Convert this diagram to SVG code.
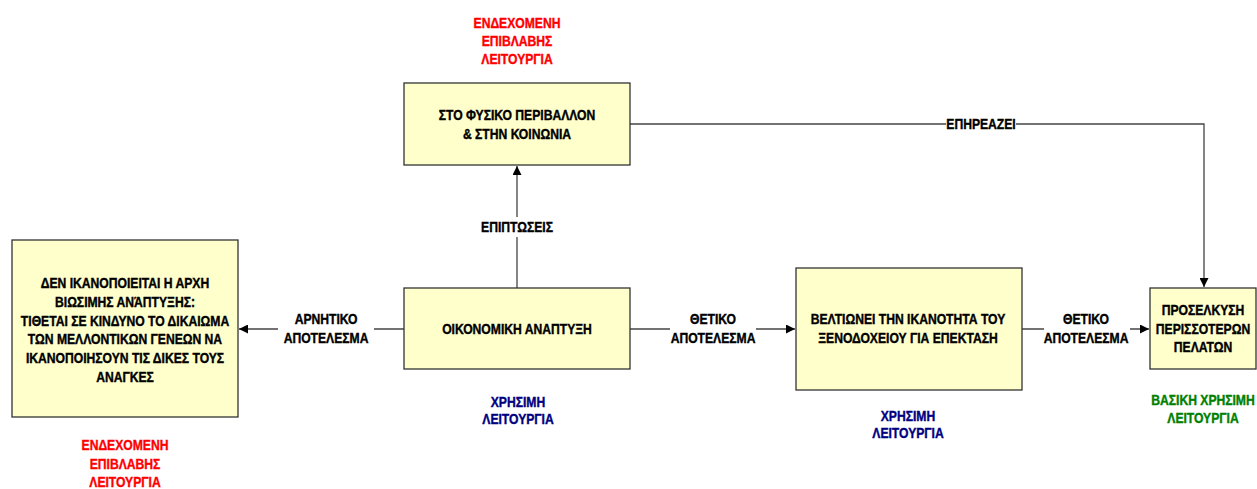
<svg xmlns="http://www.w3.org/2000/svg" width="1257" height="489" viewBox="0 0 1257 489">
<defs>
<marker id="arr" viewBox="0 0 10 10" refX="10" refY="5" markerWidth="9" markerHeight="9" markerUnits="userSpaceOnUse" orient="auto">
<path d="M0,0 L10,5 L0,10 z" fill="#000"/>
</marker>
</defs>
<style>
text{font-family:"Liberation Sans",Arial,sans-serif;font-weight:bold;font-size:15px;text-anchor:middle;fill:#000;stroke:#000;stroke-width:0.4;transform-box:fill-box;transform-origin:center;transform:scale(0.81,1)}
.box{fill:#FFFFCC;stroke:#333;stroke-width:1.3}
.ln{fill:none;stroke:#444;stroke-width:1.3}
text.red{fill:#FF0000;stroke:#FF0000}
text.blue{fill:#000080;stroke:#000080}
text.green{fill:#008000;stroke:#008000}
.lbg{fill:#fff}
</style>
<rect width="1257" height="489" fill="#fff"/>
<g id="connectors">
<line class="ln" x1="404" y1="329" x2="239" y2="329" marker-end="url(#arr)"/>
<line class="ln" x1="630" y1="329" x2="795" y2="329" marker-end="url(#arr)"/>
<line class="ln" x1="1022" y1="329" x2="1149" y2="329" marker-end="url(#arr)"/>
<line class="ln" x1="517" y1="288" x2="517" y2="166" marker-end="url(#arr)"/>
<polyline class="ln" points="630,124 1204,124 1204,287" marker-end="url(#arr)"/>
<rect class="lbg" x="278" y="308" width="96" height="40"/>
<text x="326" y="324">ΑΡΝΗΤΙΚΟ</text>
<text x="326" y="343">ΑΠΟΤΕΛΕΣΜΑ</text>
<rect class="lbg" x="670" y="308" width="86" height="40"/>
<text x="713" y="324">ΘΕΤΙΚΟ</text>
<text x="713" y="343">ΑΠΟΤΕΛΕΣΜΑ</text>
<rect class="lbg" x="1044" y="308" width="86" height="40"/>
<text x="1086" y="324">ΘΕΤΙΚΟ</text>
<text x="1086" y="343">ΑΠΟΤΕΛΕΣΜΑ</text>
<rect class="lbg" x="478" y="217" width="78" height="20"/>
<text x="517" y="232">ΕΠΙΠΤΩΣΕΙΣ</text>
<rect class="lbg" x="946" y="116" width="70" height="16"/>
<text x="981" y="129">ΕΠΗΡΕΑΖΕΙ</text>
</g>
<g id="node-environment">
<rect class="box" x="404" y="83" width="226" height="82"/>
<text x="517" y="120">ΣΤΟ ΦΥΣΙΚΟ ΠΕΡΙΒΑΛΛΟΝ</text>
<text x="517" y="139">&amp; ΣΤΗΝ ΚΟΙΝΩΝΙΑ</text>
<text class="red" x="517" y="28">ΕΝΔΕΧΟΜΕΝΗ</text>
<text class="red" x="517" y="46">ΕΠΙΒΛΑΒΗΣ</text>
<text class="red" x="517" y="64">ΛΕΙΤΟΥΡΓΙΑ</text>
</g>
<g id="node-sustainability">
<rect class="box" x="12" y="240" width="226" height="177"/>
<text x="125" y="288">ΔΕΝ ΙΚΑΝΟΠΟΙΕΙΤΑΙ Η ΑΡΧΗ</text>
<text x="125" y="307">ΒΙΩΣΙΜΗΣ ΑΝΆΠΤΥΞΗΣ:</text>
<text x="125" y="326">ΤΙΘΕΤΑΙ ΣΕ ΚΙΝΔΥΝΟ ΤΟ ΔΙΚΑΙΩΜΑ</text>
<text x="125" y="344">ΤΩΝ ΜΕΛΛΟΝΤΙΚΩΝ ΓΕΝΕΩΝ ΝΑ</text>
<text x="125" y="363">ΙΚΑΝΟΠΟΙΗΣΟΥΝ ΤΙΣ ΔΙΚΕΣ ΤΟΥΣ</text>
<text x="125" y="382">ΑΝΑΓΚΕΣ</text>
<text class="red" x="125" y="450">ΕΝΔΕΧΟΜΕΝΗ</text>
<text class="red" x="125" y="469">ΕΠΙΒΛΑΒΗΣ</text>
<text class="red" x="125" y="487">ΛΕΙΤΟΥΡΓΙΑ</text>
</g>
<g id="node-economic">
<rect class="box" x="404" y="288" width="226" height="81"/>
<text x="517" y="334">ΟΙΚΟΝΟΜΙΚΗ ΑΝΑΠΤΥΞΗ</text>
<text class="blue" x="518" y="407">ΧΡΗΣΙΜΗ</text>
<text class="blue" x="518" y="424">ΛΕΙΤΟΥΡΓΙΑ</text>
</g>
<g id="node-hotel">
<rect class="box" x="796" y="268" width="226" height="122"/>
<text x="908" y="324">ΒΕΛΤΙΩΝΕΙ ΤΗΝ ΙΚΑΝΟΤΗΤΑ ΤΟΥ</text>
<text x="908" y="343">ΞΕΝΟΔΟΧΕΙΟΥ ΓΙΑ ΕΠΕΚΤΑΣΗ</text>
<text class="blue" x="908" y="421">ΧΡΗΣΙΜΗ</text>
<text class="blue" x="908" y="438">ΛΕΙΤΟΥΡΓΙΑ</text>
</g>
<g id="node-customers">
<rect class="box" x="1150" y="288" width="106" height="81"/>
<text x="1203" y="315">ΠΡΟΣΕΛΚΥΣΗ</text>
<text x="1203" y="334">ΠΕΡΙΣΣΟΤΕΡΩΝ</text>
<text x="1203" y="352">ΠΕΛΑΤΩΝ</text>
<text class="green" x="1203" y="405">ΒΑΣΙΚΗ ΧΡΗΣΙΜΗ</text>
<text class="green" x="1203" y="423">ΛΕΙΤΟΥΡΓΙΑ</text>
</g>
</svg>
